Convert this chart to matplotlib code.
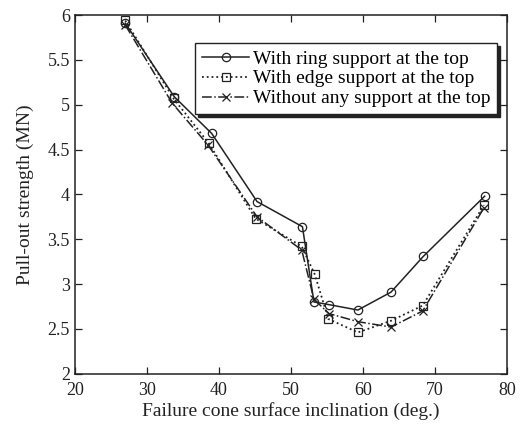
import numpy as np
import matplotlib
matplotlib.use("Agg")
import matplotlib.pyplot as plt

plt.rcParams['font.family'] = ['Liberation Serif', 'DejaVu Serif']

# ring support at the top
x_ring = [27.0, 33.8, 39.0, 45.3, 51.6, 53.2, 55.3, 59.3, 63.9, 68.4, 76.9]
y_ring = [5.91, 5.09, 4.68, 3.92, 3.64, 2.80, 2.77, 2.71, 2.91, 3.31, 3.98]

# edge support at the top
x_edge = [27.0, 33.7, 38.6, 45.1, 51.5, 53.3, 55.2, 59.3, 63.9, 68.3, 76.8]
y_edge = [5.94, 5.07, 4.57, 3.73, 3.42, 3.11, 2.61, 2.46, 2.59, 2.76, 3.88]

# without any support
x_none = [27.0, 33.5, 38.5, 45.3, 51.5, 53.2, 55.3, 59.3, 63.9, 68.3, 76.8]
y_none = [5.89, 5.02, 4.55, 3.75, 3.38, 2.83, 2.67, 2.58, 2.52, 2.70, 3.85]

labels = ['With ring support at the top',
          'With edge support at the top',
          'Without any support at the top']

fig = plt.figure(figsize=(5.27, 4.32), dpi=100)
ax = fig.add_axes([0.142, 0.135, 0.82, 0.83])

ax.plot(x_ring, y_ring, '-', color='#222222', lw=1.1, marker='o', ms=6,
        mfc='none', mec='#222222', mew=0.9, label=labels[0])
ax.plot(x_edge, y_edge, ':', color='#222222', lw=1.3, marker='s', ms=6,
        mfc='none', mec='#222222', mew=0.9, label=labels[1])
ax.plot(x_none, y_none, '-.', color='#222222', lw=1.1, marker='x', ms=6,
        mec='#222222', mew=0.9, label=labels[2])

ax.set_xlim(20, 80)
ax.set_ylim(2, 6)
ax.set_xticks([20, 30, 40, 50, 60, 70, 80])
ax.set_yticks([2, 2.5, 3, 3.5, 4, 4.5, 5, 5.5, 6])
ax.set_yticklabels(['2', '2.5', '3', '3.5', '4', '4.5', '5', '5.5', '6'])
ax.tick_params(direction='in', top=True, right=True, length=5, width=0.9,
               labelsize=13, colors='#222222')
ax.tick_params(axis='x', pad=6)
for s in ax.spines.values():
    s.set_linewidth(1.1)
    s.set_color('#222222')

ax.set_xlabel('Failure cone surface inclination (deg.)', fontsize=14,
              color='#222222', labelpad=2)
ax.set_ylabel('Pull-out strength (MN)', fontsize=14, color='#222222',
              labelpad=10)

leg = ax.legend(loc='upper right', bbox_to_anchor=(0.977, 0.922), fontsize=14,
                numpoints=1, handlelength=2.4, handletextpad=0.2,
                borderpad=0.35, labelspacing=0.12, borderaxespad=0,
                fancybox=False,
                shadow={'color': '#222222', 'alpha': 1, 'ox': 2, 'oy': -2},
                framealpha=1, edgecolor='#222222')
leg.get_frame().set_linewidth(1.0)

fig.savefig('out.png', dpi=100)
